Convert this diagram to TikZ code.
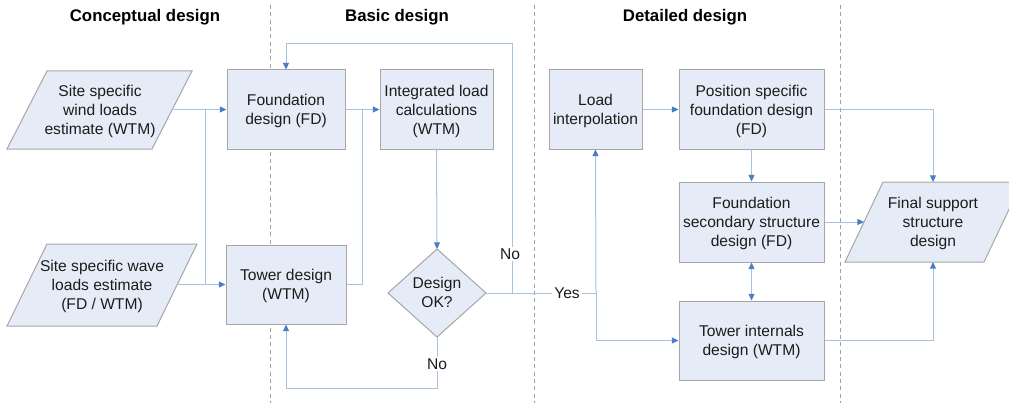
\documentclass[tikz,border=0pt]{standalone}
\usepackage{fontspec}
\setmainfont{Liberation Sans}
\usetikzlibrary{arrows.meta}
\definecolor{boxfill}{HTML}{E6ECF7}
\definecolor{boxline}{HTML}{A6A6A6}
\definecolor{conn}{HTML}{A9C1E4}
\definecolor{tipblue}{HTML}{4A7DC4}
\definecolor{sepgray}{HTML}{A0A0A0}
\definecolor{txtcol}{HTML}{1C1C1C}
\newcommand\bodyfnt{\fontsize{11.7}{14.25}\selectfont}
\newcommand\headfnt{\fontsize{12.6}{15}\selectfont\bfseries}
\tikzset{
  box/.style={draw=boxline, fill=boxfill, line width=0.75pt, rectangle, inner sep=0pt, align=center, font=\bodyfnt, text=txtcol, text depth=0pt},
  shapefill/.style={draw=boxline, fill=boxfill, line width=0.75pt},
  txt/.style={inner sep=0pt, align=center, font=\bodyfnt, text=txtcol, text depth=0pt},
  head/.style={inner sep=0pt, font=\headfnt},
  sepline/.style={draw=sepgray, line width=0.6pt, dash pattern=on 3pt off 2.5pt},
  conline/.style={draw=conn, line width=0.75pt},
  arr/.style={conline, -{Triangle[length=5pt,width=4.5pt,color=tipblue]}},
  darr/.style={conline, {Triangle[length=5pt,width=4.5pt,color=tipblue]}-{Triangle[length=5pt,width=4.5pt,color=tipblue]}},
  lab/.style={fill=white, inner sep=1.5pt, font=\bodyfnt, text=txtcol},
}
\begin{document}
\begin{tikzpicture}[x=0.75pt, y=-0.75pt]
\useasboundingbox (0,0) rectangle (1009,403);
\clip (0,0) rectangle (1009,403);
% separators
\draw[sepline] (270,5) -- (270,403);
\draw[sepline] (534,5) -- (534,403);
\draw[sepline] (840,5) -- (840,403);
% headers
\node[head] (h1) at (145,17) {Conceptual design};
\node[head] (h2) at (397,17) {Basic design};
\node[head] (h3) at (685,17) {Detailed design};
% parallelograms and diamond
\draw[shapefill] (47,71) -- (192,71) -- (152,149) -- (7,149) -- cycle;
\draw[shapefill] (47,244) -- (197,244) -- (157,326) -- (7,326) -- cycle;
\draw[shapefill] (883,182) -- (1022,182) -- (984,262) -- (845,262) -- cycle;
\draw[shapefill] (437,249) -- (486,293) -- (437,337) -- (388,293) -- cycle;
% text of shapes
\node[txt] (wind) at (100,110) {Site specific\\wind loads\\estimate (WTM)};
\node[txt] (wave) at (102,285) {Site specific wave\\loads estimate\\(FD / WTM)};
\node[txt] (final) at (933,222) {Final support\\structure\\design};
\node[txt] (dec) at (437,292) {Design\\OK?};
% boxes
\node[box, minimum width=88.5pt, minimum height=59.25pt] (fd) at (286,109.5) {Foundation\\design (FD)};
\node[box, minimum width=90pt, minimum height=59.25pt] (tower) at (286,284.5) {Tower design\\(WTM)};
\node[box, minimum width=84.75pt, minimum height=59.25pt] (ilc) at (436.5,109.5) {Integrated load\\calculations\\(WTM)};
\node[box, minimum width=69.75pt, minimum height=59.25pt] (li) at (595.5,109.5) {Load\\interpolation};
\node[box, minimum width=108.75pt, minimum height=59.25pt] (ps) at (751.5,109.5) {Position specific\\foundation design\\(FD)};
\node[box, minimum width=108.75pt, minimum height=60pt] (fs) at (751.5,222) {Foundation\\secondary structure\\design (FD)};
\node[box, minimum width=108.75pt, minimum height=59.25pt] (ti) at (751.5,340.5) {Tower internals\\design (WTM)};
% coordinates
\coordinate (windR) at (172,109.5);
\coordinate (waveR) at (177,284.5);
\coordinate (j1top) at (205,109.5);
\coordinate (j1bot) at (205,284.5);
\coordinate (j2) at (362,109.5);
\coordinate (decT) at (437,249);
\coordinate (decB) at (437,337);
\coordinate (decR) at (486,293);
\coordinate (noUp) at (512,44);
\coordinate (noDown) at (437,388);
\coordinate (yesJ) at (596,293);
\coordinate (finT) at (933,182);
\coordinate (finB) at (933,262);
\coordinate (finL) at (864,222);
% connectors
\draw[arr] (windR) -- (fd.west);
\draw[arr] (waveR) -- (tower.west);
\draw[conline] (j1top) -- (j1bot);
\draw[arr] (fd.east) -- (ilc.west);
\draw[conline] (tower.east) -| (j2);
\draw[arr] (ilc.south) -- (decT);
\draw[arr] (decR) -| (noUp) -| (fd.north);
\draw[arr] (decB) -- (noDown) -| (tower.south);
\draw[conline] (decR) -- (yesJ);
\draw[arr] (yesJ) -- (li.south);
\draw[arr] (yesJ) |- (ti.west);
\draw[arr] (li.east) -- (ps.west);
\draw[arr] (ps.south) -- (fs.north);
\draw[darr] (fs.south) -- (ti.north);
\draw[arr] (ps.east) -| (finT);
\draw[arr] (fs.east) -- (finL);
\draw[arr] (ti.east) -| (finB);
% labels
\node[lab] (no1) at (510,254) {No};
\node[lab] (no2) at (437,364) {No};
\node[lab] (yes) at (567,293) {Yes};
\end{tikzpicture}
\end{document}
